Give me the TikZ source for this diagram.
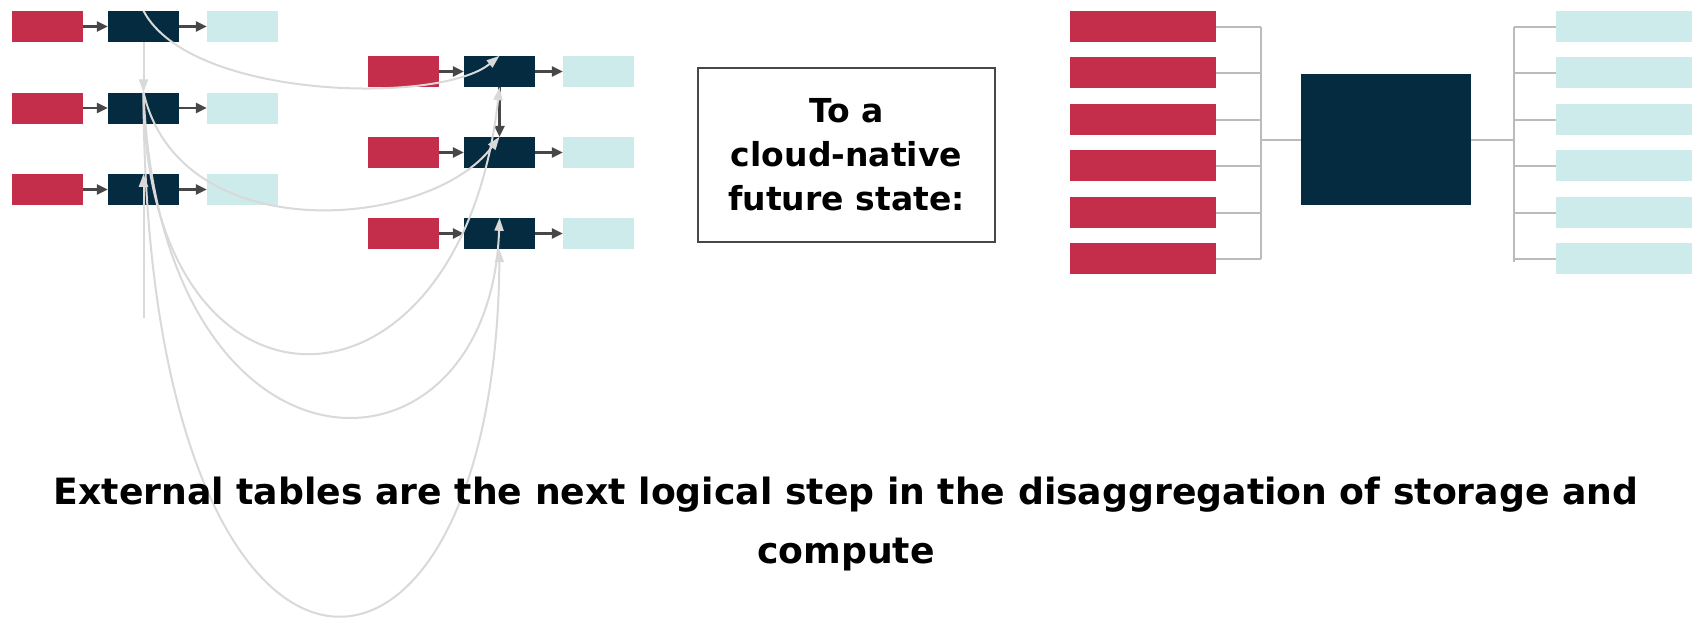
\documentclass[tikz,border=0pt]{standalone}
\usepackage{fontspec}
\setmainfont{DejaVu Sans}
\usetikzlibrary{arrows.meta}

\definecolor{srcred}{HTML}{C52E4A}
\definecolor{navy}{HTML}{052B40}
\definecolor{tblcyan}{HTML}{CEEBEB}
\definecolor{linkgray}{HTML}{D9D9D9}
\definecolor{arrgray}{HTML}{474747}
\definecolor{busgray}{HTML}{BBBBBB}

\tikzset{
    src/.style={fill=srcred, inner sep=0, minimum width=71, minimum height=31},
    cmp/.style={fill=navy, inner sep=0, minimum width=71, minimum height=31},
    tbl/.style={fill=tblcyan, inner sep=0, minimum width=71, minimum height=31},
    darr/.style={draw=arrgray, line width=2.5, -{Triangle[length=11pt,width=10pt]}},
    link/.style={draw=linkgray, line width=2, -{Triangle[length=13pt,width=9pt]}},
    bus/.style={draw=busgray, line width=2},
}

\begin{document}
\begin{tikzpicture}[x=1pt, y=1pt]
    \useasboundingbox (0,0) rectangle (1692,-619);

    % legacy pipelines
    \foreach \n/\dx/\y in {L1/0/26.5, L2/0/108, L3/0/189.5, R1/356/71.5, R2/356/152.5, R3/356/233.5} {
        \node[src] (s\n) at (47.5+\dx,-\y) {};
        \node[cmp] (\n) at (143.5+\dx,-\y) {};
        \node[tbl] (t\n) at (242.5+\dx,-\y) {};
        \draw[darr] (s\n) -- (\n);
        \draw[darr] (\n) -- (t\n);
    }
    \draw[darr] (R1.south) -- (R2.north);

    % tangled dependencies
    \coordinate (tail) at (143.5,-318);
    \draw[link] (L1.south) -- (L2.north);
    \draw[link] (tail) -- (L3.north);
    \draw[link] (L1.north) .. controls +(46.5,-89) and +(-59.5,-49) .. (R1.north);
    \draw[link] (L2.north) .. controls +(36.5,-158) and +(-69.5,-93) .. (R2.north);
    \draw[link] (L2.north) .. controls +(1.5,-348) and +(-39.5,-353) .. (R1.south);
    \draw[link] (L2.north) .. controls +(16.5,-408) and +(-9.5,-282) .. (R3.north);
    \draw[link] (L2.north) .. controls +(1.5,-668) and +(-4.5,-511) .. (R3.south);

    \node[draw=arrgray, line width=1.5, minimum width=297, minimum height=174, align=center,
          font=\fontsize{33}{44}\selectfont\bfseries] (future) at (846.5,-155)
        {To a\\cloud-native\\future state:};

    % cloud-native layout
    \node[fill=navy, inner sep=0, minimum width=170, minimum height=131] (hub) at (1386,-139.5) {};
    \coordinate (lbus) at (1261,0);
    \coordinate (rbus) at (1514,0);
    \foreach \i/\y in {1/26.5, 2/72.5, 3/119.5, 4/165.5, 5/212.5, 6/258.5} {
        \node[src, minimum width=146] (in\i) at (1143,-\y) {};
        \node[tbl, minimum width=136] (out\i) at (1624,-\y) {};
        \draw[bus] (in\i.east) -- (in\i.east -| lbus);
        \draw[bus] (out\i.west) -- (out\i.west -| rbus);
    }
    \draw[bus] (lbus |- in1.east) -- (lbus |- in6.east);
    \draw[bus] (rbus |- out1.west) -- ([yshift=-3]rbus |- out6.west);
    \draw[bus] (lbus |- hub.west) -- (hub.west);
    \draw[bus] (hub.east) -- (rbus |- hub.east);

    \node[align=center, inner sep=0, anchor=north, font=\fontsize{36.2}{59}\selectfont\bfseries] (caption) at (846,-477)
        {External tables are the next logical step in the disaggregation of storage and\\compute};
\end{tikzpicture}
\end{document}
